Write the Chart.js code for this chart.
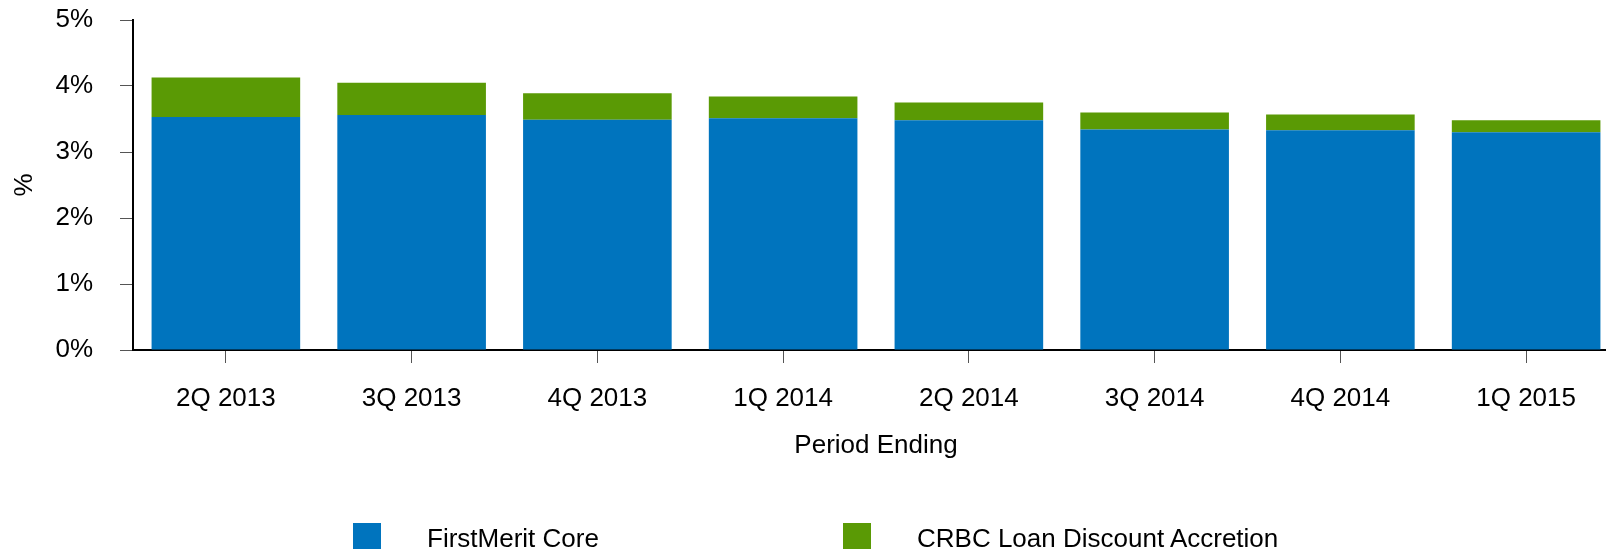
<!DOCTYPE html>
<html>
<head>
<meta charset="utf-8">
<script src="https://cdn.jsdelivr.net/npm/chart.js@4/dist/chart.umd.min.js"></script>
<style>
  html, body { margin: 0; padding: 0; background: #fff; overflow: hidden; width: 1606px; height: 549px; }
  #wrap { position: absolute; left: 0; top: 0; width: 1620px; height: 549px; }
  canvas { display: block; }
  .lg-box { position: absolute; width: 28px; height: 28px; top: 523px; }
  .lg-text { position: absolute; top: 525px; font-family: "Liberation Sans", Arial, sans-serif; font-size: 26px; line-height: 26px; color: #000; white-space: nowrap; }
</style>
</head>
<body>
<div id="wrap"><canvas id="c" width="1620" height="549"></canvas></div>
<div id="legend"></div>
<script>
const categories = ['2Q 2013', '3Q 2013', '4Q 2013', '1Q 2014', '2Q 2014', '3Q 2014', '4Q 2014', '1Q 2015'];
const firstMeritCore = [3.53, 3.56, 3.49, 3.51, 3.48, 3.34, 3.33, 3.30];
const crbcAccretion = [0.60, 0.49, 0.40, 0.33, 0.27, 0.26, 0.24, 0.18];
const yTickValues = [0, 1, 2, 3, 4, 5];
const seriesNames = ['FirstMerit Core', 'CRBC Loan Discount Accretion'];
const seriesColors = ['#0074BE', '#5A9A05'];
const xTitle = 'Period Ending';
const yTitle = '%';

const FONT = '"Liberation Sans", Arial, sans-serif';

new Chart(document.getElementById('c'), {
  type: 'bar',
  data: {
    labels: categories,
    datasets: [
      { label: seriesNames[0], data: firstMeritCore, backgroundColor: seriesColors[0], borderWidth: 0 },
      { label: seriesNames[1], data: crbcAccretion, backgroundColor: seriesColors[1], borderWidth: 0 }
    ]
  },
  options: {
    responsive: false,
    animation: false,
    devicePixelRatio: 1,
    categoryPercentage: 1.0,
    barPercentage: 0.8,
    layout: { padding: { top: 0, right: 1, bottom: 0, left: 0 } },
    plugins: { legend: { display: false }, tooltip: { enabled: false } },
    scales: {
      x: {
        stacked: true,
        offset: true,
        grid: { offset: false, drawOnChartArea: false, drawTicks: true, tickLength: 13, color: '#555', lineWidth: 1 },
        border: { display: true, color: '#000', width: 2 },
        ticks: { color: '#000', font: { family: FONT, size: 26 }, padding: 20, maxRotation: 0, autoSkip: false },
        title: { display: true, text: xTitle, color: '#000', font: { family: FONT, size: 26 }, padding: { top: 0, bottom: 88 } },
        afterFit: (s) => { s.height = 199; }
      },
      y: {
        stacked: true,
        min: 0,
        max: 5,
        afterBuildTicks: (s) => { s.ticks = yTickValues.map(v => ({ value: v })); },
        grid: { drawOnChartArea: false, drawTicks: true, tickLength: 13, color: '#555', lineWidth: 1 },
        border: { display: true, color: '#000', width: 2 },
        ticks: { color: '#000', font: { family: FONT, size: 26 }, padding: 27, callback: (v) => v + '%' },
        title: { display: true, text: yTitle, color: '#000', font: { family: FONT, size: 26 }, padding: { top: 9, bottom: 0 } },
        afterFit: (s) => { s.width = 133; s.paddingTop = 20; }
      }
    }
  }
});

const legendEl = document.getElementById('legend');
const legendBoxX = [353, 843];
const legendTextX = [427, 917];
seriesNames.forEach((name, i) => {
  const b = document.createElement('div');
  b.className = 'lg-box';
  b.style.left = legendBoxX[i] + 'px';
  b.style.background = seriesColors[i];
  legendEl.appendChild(b);
  const t = document.createElement('div');
  t.className = 'lg-text';
  t.style.left = legendTextX[i] + 'px';
  t.textContent = name;
  legendEl.appendChild(t);
});
</script>
</body>
</html>
